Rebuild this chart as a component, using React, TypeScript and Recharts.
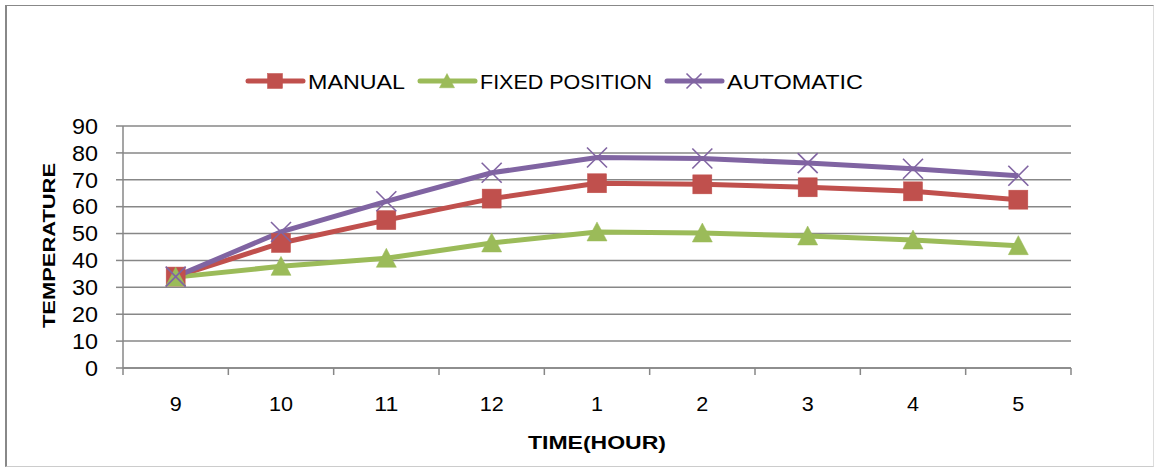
import React from 'react';
import { LineChart, Line, XAxis, YAxis, CartesianGrid, Legend } from 'recharts';

const hours = ['9', '10', '11', '12', '1', '2', '3', '4', '5'];
const manual = [34, 46.5, 55, 63, 68.7, 68.3, 67.2, 65.7, 62.6];
const fixedPosition = [33.8, 37.8, 40.8, 46.5, 50.6, 50.2, 49.1, 47.6, 45.5];
const automatic = [34, 50.6, 62, 72.6, 78.3, 77.9, 76.2, 74.1, 71.5];
const yTicks = [0, 10, 20, 30, 40, 50, 60, 70, 80, 90];
const seriesOrder = ['MANUAL', 'FIXED POSITION', 'AUTOMATIC'];

const RED = '#C0504D';
const GREEN = '#9BBB59';
const PURPLE = '#8064A2';
const GRID = '#878787';
const FONT = '"Liberation Sans", Arial, sans-serif';

const data = hours.map((h, i) => ({
  pos: i + 0.5,
  hour: h,
  manual: manual[i],
  fixed: fixedPosition[i],
  automatic: automatic[i],
}));

const xTicks: number[] = [];
for (let i = 0; i <= hours.length * 2; i++) xTicks.push(i / 2);

const LEGEND_TEXT_LEN: Record<string, number> = {
  MANUAL: 97,
  'FIXED POSITION': 172,
  AUTOMATIC: 136,
};

function Marker({ shape, cx, cy, color, size }: { shape: string; cx: number; cy: number; color: string; size: number }) {
  const h = size / 2;
  if (shape === 'square') {
    return <rect x={cx - h} y={cy - h} width={size} height={size} fill={color} stroke={color} strokeWidth={0.5} />;
  }
  if (shape === 'triangle') {
    return (
      <polygon
        points={`${cx},${cy - h} ${cx + h},${cy + h * 0.9} ${cx - h},${cy + h * 0.9}`}
        fill={color}
        stroke={color}
        strokeWidth={0.5}
      />
    );
  }
  return (
    <g stroke={color} strokeWidth={1.6}>
      <line x1={cx - h} y1={cy - h} x2={cx + h} y2={cy + h} />
      <line x1={cx - h} y1={cy + h} x2={cx + h} y2={cy - h} />
    </g>
  );
}

const SHAPES: Record<string, string> = {
  MANUAL: 'square',
  'FIXED POSITION': 'triangle',
  AUTOMATIC: 'x',
};

const makeDot = (shape: string, color: string) => (props: any) => {
  const { cx, cy, index } = props;
  if (cx == null || cy == null) return <g key={`${shape}-${index}`} />;
  return (
    <g key={`${shape}-${index}`}>
      <Marker shape={shape} cx={cx} cy={cy} color={color} size={shape === 'square' ? 19 : 20} />
    </g>
  );
};

const XTick = (props: any) => {
  const { x, y, payload } = props;
  const v = payload.value;
  if (Number.isInteger(v)) {
    return <line x1={x} x2={x} y1={y} y2={y + 7} stroke={GRID} strokeWidth={1.5} />;
  }
  const label = hours[Math.floor(v)];
  return (
    <text
      x={x}
      y={y + 28}
      dy="0.71em"
      textAnchor="middle"
      fontFamily={FONT}
      fontSize={21}
      fill="#000"
      textLength={label.length * 12}
      lengthAdjust="spacingAndGlyphs"
    >
      {label}
    </text>
  );
};

const YTick = (props: any) => {
  const { x, y, payload } = props;
  const label = String(payload.value);
  return (
    <text
      x={x}
      y={y}
      dy="0.355em"
      textAnchor="end"
      fontFamily={FONT}
      fontSize={22}
      fill="#000"
      textLength={label.length * 13}
      lengthAdjust="spacingAndGlyphs"
    >
      {label}
    </text>
  );
};

const LegendContent = (props: any) => {
  const payload = [...(props.payload || [])].sort(
    (a: any, b: any) => seriesOrder.indexOf(String(a.value)) - seriesOrder.indexOf(String(b.value))
  );
  let x = 248;
  const items = payload.map((p: any, i: number) => {
    const name = String(p.value);
    const tl = LEGEND_TEXT_LEN[name] || 100;
    const g = (
      <g key={i}>
        <line x1={x} x2={x + 55} y1={81} y2={81} stroke={p.color} strokeWidth={5} strokeLinecap="round" />
        <Marker shape={SHAPES[name]} cx={x + 27} cy={81} color={p.color} size={15} />
        <text
          x={x + 60}
          y={88.5}
          fontFamily={FONT}
          fontSize={21}
          fill="#000"
          textLength={tl}
          lengthAdjust="spacingAndGlyphs"
        >
          {name}
        </text>
      </g>
    );
    x += 55 + 5 + tl + 15;
    return g;
  });
  return (
    <svg width={1155} height={110} style={{ display: 'block' }}>
      {items}
    </svg>
  );
};

export default function App() {
  return (
    <div style={{ position: 'absolute', left: 0, top: 0, width: 1155, height: 468, background: '#fff' }}>
      <div
        style={{
          position: 'absolute',
          left: 5,
          top: 5,
          width: 1146,
          height: 460,
          borderLeft: '2px solid #888',
          borderTop: '1px solid #888',
          borderRight: '1px solid #ddd',
          borderBottom: '1px solid #ccc',
        }}
      />
      <div style={{ position: 'absolute', left: 0, top: 0 }}>
        <LineChart width={1155} height={468} data={data} margin={{ top: 126, right: 84, bottom: 70, left: 63 }}>
          <CartesianGrid vertical={false} stroke={GRID} strokeWidth={1.5} />
          <XAxis
            dataKey="pos"
            type="number"
            domain={[0, 9]}
            ticks={xTicks}
            interval={0}
            tickLine={false}
            tickSize={0}
            tickMargin={0}
            tick={<XTick />}
            height={30}
            axisLine={{ stroke: GRID, strokeWidth: 1.5 }}
            allowDecimals
            label={{
              content: () => (
                <text
                  x={597}
                  y={449}
                  textAnchor="middle"
                  fontFamily={FONT}
                  fontWeight="bold"
                  fontSize={19}
                  fill="#000"
                  textLength={138}
                  lengthAdjust="spacingAndGlyphs"
                >
                  TIME(HOUR)
                </text>
              ),
            }}
          />
          <YAxis
            type="number"
            domain={[0, 90]}
            ticks={yTicks}
            interval={0}
            width={60}
            tickSize={7}
            tickMargin={18}
            tickLine={{ stroke: GRID, strokeWidth: 1.5 }}
            axisLine={{ stroke: GRID, strokeWidth: 1.5 }}
            tick={<YTick />}
            label={{
              content: () => (
                <text
                  transform="translate(55, 245.5) rotate(-90)"
                  x={0}
                  y={0}
                  textAnchor="middle"
                  fontFamily={FONT}
                  fontWeight="bold"
                  fontSize={17}
                  fill="#000"
                  textLength={165}
                  lengthAdjust="spacingAndGlyphs"
                >
                  TEMPERATURE
                </text>
              ),
            }}
          />
          <Legend
            verticalAlign="middle"
            layout="horizontal"
            content={<LegendContent />}
            wrapperStyle={{ left: 0, top: 0, width: 1155, height: 110 }}
          />
          <Line
            type="linear"
            dataKey="manual"
            name="MANUAL"
            stroke={RED}
            strokeWidth={5}
            dot={makeDot('square', RED)}
            activeDot={false}
            isAnimationActive={false}
          />
          <Line
            type="linear"
            dataKey="fixed"
            name="FIXED POSITION"
            stroke={GREEN}
            strokeWidth={5}
            dot={makeDot('triangle', GREEN)}
            activeDot={false}
            isAnimationActive={false}
          />
          <Line
            type="linear"
            dataKey="automatic"
            name="AUTOMATIC"
            stroke={PURPLE}
            strokeWidth={5}
            dot={makeDot('x', PURPLE)}
            activeDot={false}
            isAnimationActive={false}
          />
        </LineChart>
      </div>
    </div>
  );
}
